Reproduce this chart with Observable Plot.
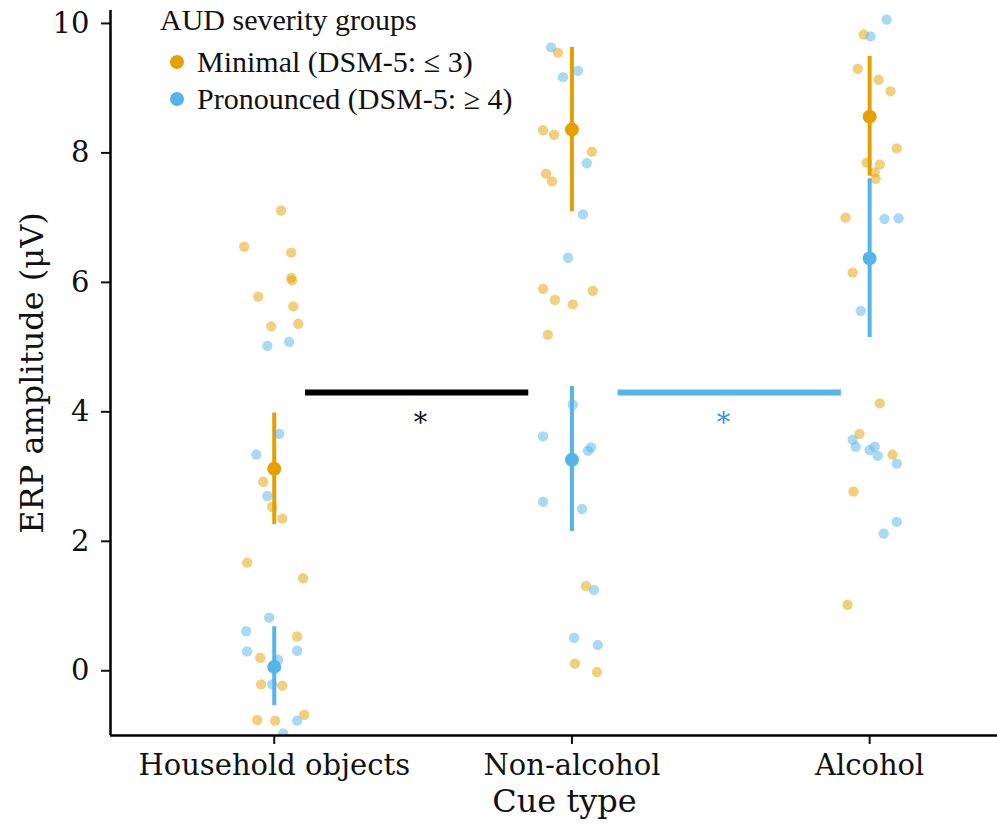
<!DOCTYPE html>
<html>
<head>
<meta charset="utf-8">
<script src="https://cdn.jsdelivr.net/npm/d3@7"></script>
<script src="https://cdn.jsdelivr.net/npm/@observablehq/plot@0.6"></script>
<style>
  html, body { margin: 0; padding: 0; background: #fff; }
  #wrap { position: relative; width: 997px; height: 824px; overflow: hidden; }
  #chart svg { max-width: none !important; display: block; }
  #legend { position: absolute; left: 160px; top: 0px; font-family: "Liberation Serif", serif; color: #111; }
  #legend .title { position: absolute; left: 0; top: 3px; font-size: 30px; line-height: 34px; white-space: nowrap; }
  #legend .item { position: absolute; left: 10px; white-space: nowrap; font-size: 30px; line-height: 34px; display: flex; align-items: center; }
  #legend .sw { width: 14px; height: 14px; border-radius: 50%; display: inline-block; margin-right: 13px; }
  svg text { font-family: "DejaVu Serif", serif; }
</style>
</head>
<body>
<div id="wrap"><div id="chart"></div><div id="legend"></div></div>
<script>
const categories = ["Household objects", "Non-alcohol", "Alcohol"];
const groups = ["Minimal (DSM-5: \u2264 3)", "Pronounced (DSM-5: \u2265 4)"];
const groupColors = ["#E69F00", "#56B4E9"];
const yTicks = [0, 2, 4, 6, 8, 10];

// individual participant values [category][group]
const householdMinimal = [7.11, 6.55, 6.46, 6.07, 6.03, 5.78, 5.63, 5.32, 5.36, 2.92, 2.53, 2.35, 1.67, 1.43, 0.53, 0.20, -0.21, -0.23, -0.76, -0.77, -0.68];
const householdMinimalJitter = [0.023, -0.101, 0.057, 0.057, 0.060, -0.054, 0.064, -0.010, 0.081, -0.037, -0.007, 0.027, -0.091, 0.097, 0.077, -0.047, -0.044, 0.027, -0.057, 0.003, 0.101];
const householdPronounced = [5.02, 5.08, 3.66, 3.34, 2.70, 0.82, 0.61, 0.30, 0.31, 0.17, -0.21, -0.77, -0.97];
const householdPronouncedJitter = [-0.023, 0.050, 0.017, -0.060, -0.023, -0.017, -0.094, -0.091, 0.077, 0.013, -0.007, 0.077, 0.030];

const nonAlcMinimal = [9.55, 8.35, 8.28, 8.02, 7.68, 7.56, 5.90, 5.87, 5.73, 5.66, 5.19, 1.31, 0.11, -0.02];
const nonAlcMinimalJitter = [-0.047, -0.097, -0.060, 0.067, -0.087, -0.067, -0.097, 0.070, -0.057, 0.003, -0.081, 0.047, 0.010, 0.084];
const nonAlcPronounced = [9.63, 9.17, 9.27, 7.84, 7.05, 6.38, 4.11, 3.62, 3.40, 3.45, 2.61, 2.50, 1.25, 0.51, 0.40];
const nonAlcPronouncedJitter = [-0.070, -0.030, 0.020, 0.050, 0.037, -0.013, 0.003, -0.097, 0.054, 0.064, -0.097, 0.034, 0.074, 0.007, 0.087];

const alcMinimal = [9.83, 9.30, 9.13, 8.95, 8.07, 7.85, 7.82, 7.70, 7.60, 7.00, 6.15, 4.13, 3.66, 3.34, 2.77, 1.02];
const alcMinimalJitter = [-0.020, -0.040, 0.030, 0.070, 0.091, -0.010, 0.034, 0.017, 0.020, -0.081, -0.057, 0.034, -0.034, 0.077, -0.054, -0.074];
const alcPronounced = [10.06, 9.80, 6.98, 6.99, 5.56, 3.57, 3.46, 3.41, 3.46, 3.32, 3.20, 2.30, 2.12];
const alcPronouncedJitter = [0.057, 0.003, 0.050, 0.097, -0.030, -0.057, -0.047, 0.000, 0.017, 0.027, 0.091, 0.091, 0.047];

// group means and 95% CI [category] for each group
const minimalMean = [3.12, 8.36, 8.56];
const minimalLow = [2.26, 7.09, 7.64];
const minimalHigh = [3.98, 9.63, 9.49];
const pronouncedMean = [0.06, 3.26, 6.37];
const pronouncedLow = [-0.54, 2.15, 5.15];
const pronouncedHigh = [0.68, 4.39, 7.60];

// significance brackets
const sigStart = [0.105, 1.155];
const sigEnd = [0.855, 1.905];
const sigLevel = [4.3, 4.3];
const sigLabel = ["*", "*"];
const sigLabelAt = [0.491, 1.509];
const sigColor = ["#000000", "#56B4E9"];
const sigTextColor = ["#111111", "#3b8fe0"];

const xDomain = [-0.55, 2.5];
const yDomain = [-1.0, 10.2];

// build tables
const raw = [
  [householdMinimal, householdMinimalJitter, 0, 0],
  [householdPronounced, householdPronouncedJitter, 0, 1],
  [nonAlcMinimal, nonAlcMinimalJitter, 1, 0],
  [nonAlcPronounced, nonAlcPronouncedJitter, 1, 1],
  [alcMinimal, alcMinimalJitter, 2, 0],
  [alcPronounced, alcPronouncedJitter, 2, 1]
];
const points = [];
for (const [vals, jit, c, g] of raw) vals.forEach((v, i) => points.push({cat: c, jit: jit[i], v, g}));

const summary = [];
categories.forEach((c, i) => {
  summary.push({cat: i, g: 0, mean: minimalMean[i], lo: minimalLow[i], hi: minimalHigh[i]});
  summary.push({cat: i, g: 1, mean: pronouncedMean[i], lo: pronouncedLow[i], hi: pronouncedHigh[i]});
});
const sig = sigStart.map((s, i) => ({x1: s, x2: sigEnd[i], xl: sigLabelAt[i], y: sigLevel[i], label: sigLabel[i], color: sigColor[i], tcolor: sigTextColor[i]}));

const chart = Plot.plot({
  width: 1018,
  height: 824,
  marginLeft: 110,
  marginRight: 0,
  marginTop: 10,
  marginBottom: 89,
  style: {fontFamily: "DejaVu Serif", fontSize: "29px", color: "#111", background: "white", maxWidth: "none"},
  x: {type: "linear", domain: xDomain},
  y: {domain: yDomain},
  marks: [
    Plot.ruleX(summary, {x: "cat", y1: "lo", y2: "hi", stroke: d => groupColors[d.g], strokeWidth: 4}),
    Plot.dot(summary, {x: "cat", y: "mean", r: 7, fill: d => groupColors[d.g], stroke: "none"}),
    Plot.dot(points, {x: d => d.cat + d.jit, y: "v", r: 5.2, fill: d => groupColors[d.g], fillOpacity: 0.5, stroke: "none", clip: true}),
    Plot.ruleY(sig, {y: "y", x1: "x1", x2: "x2", stroke: "color", strokeWidth: 6}),
    Plot.text(sig, {x: "xl", y: "y", text: "label", fill: "tcolor", dy: 31, fontSize: 27, fontFamily: "DejaVu Serif"}),
    Plot.axisY({ticks: yTicks, tickSize: 9, tickPadding: 12, tickFormat: d => String(d), fontSize: 29, strokeWidth: 2, label: null}),
    Plot.axisY({ticks: [], label: "ERP amplitude (\u03bcV)", labelArrow: false, labelAnchor: "center", labelOffset: 90, fontSize: 32}),
    Plot.axisX({ticks: categories.map((c, i) => i), tickSize: 9, tickPadding: 10, tickFormat: i => categories[i], fontSize: 29, strokeWidth: 2, label: null}),
    Plot.axisX({ticks: [], label: "Cue type", labelArrow: false, labelAnchor: "center", labelOffset: 76, fontSize: 32}),
    Plot.ruleX([xDomain[0]], {stroke: "black", strokeWidth: 2.5}),
    Plot.ruleY([yDomain[0]], {stroke: "black", strokeWidth: 2.5})
  ]
});
document.getElementById("chart").appendChild(chart);

// legend
const legend = document.getElementById("legend");
const title = document.createElement("div");
title.className = "title";
title.textContent = "AUD severity groups";
legend.appendChild(title);
groups.forEach((g, i) => {
  const it = document.createElement("div");
  it.className = "item";
  it.style.top = (45 + i * 37) + "px";
  const sw = document.createElement("span");
  sw.className = "sw";
  sw.style.background = groupColors[i];
  it.appendChild(sw);
  it.appendChild(document.createTextNode(g));
  legend.appendChild(it);
});
</script>
</body>
</html>
